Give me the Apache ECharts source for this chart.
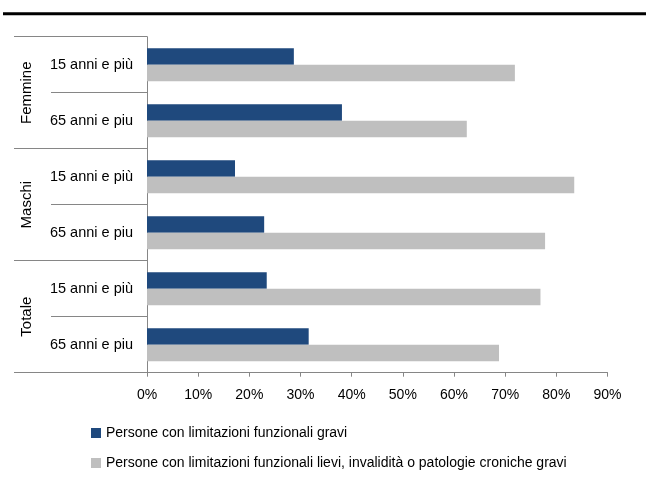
<!DOCTYPE html>
<html>
<head>
<meta charset="utf-8">
<script src="https://cdn.jsdelivr.net/npm/echarts@6/dist/echarts.min.js"></script>
<style>
	html, body { margin: 0; padding: 0; background: #fff; }
	#chart { width: 646px; height: 480px; }
</style>
</head>
<body>
<div id="chart"></div>
<script>
	'use strict'
	/*----data----*/
	var groups = ['Femmine', 'Maschi', 'Totale'];
	var ages = ['15 anni e più', '65 anni e piu'];
	var gravi = [28.7, 38.1, 17.2, 22.9, 23.4, 31.6];
	var lievi = [71.9, 62.5, 83.5, 77.8, 76.9, 68.8];
	var xTicks = [0, 10, 20, 30, 40, 50, 60, 70, 80, 90];
	var seriesNames = [
		'Persone con limitazioni funzionali gravi',
		'Persone con limitazioni funzionali lievi, invalidità o patologie croniche gravi'
	];

	var font = "'Liberation Sans Narrow', 'Arial Narrow', 'Liberation Sans', Arial, sans-serif";
	var axisGrey = '#868686';

	var categories = [];
	groups.forEach(function(g) {
		ages.forEach(function(a) {
			categories.push(g + '|' + a);
		});
	});

	var chart = echarts.init(document.getElementById('chart'));
	var option = {
		animation: false,
		grid: {
			top: 36.7,
			right: 38.5,
			bottom: 107.3,
			left: 147,
		},
		graphic: [{
			type: 'line',
			shape: { x1: 3, y1: 13.8, x2: 646, y2: 13.8 },
			style: { stroke: '#000', lineWidth: 3 }
		}],
		legend: {
			orient: 'vertical',
			left: 91,
			top: 425,
			padding: 0,
			itemWidth: 10,
			itemHeight: 10,
			itemGap: 14,
			icon: 'rect',
			textStyle: {
				fontFamily: font,
				fontSize: 14,
				lineHeight: 16,
				color: '#000'
			},
			data: seriesNames
		},
		xAxis: {
			type: 'value',
			min: xTicks[0],
			max: xTicks[xTicks.length - 1],
			interval: xTicks[1] - xTicks[0],
			splitLine: { show: false },
			axisLine: {
				show: true,
				lineStyle: { color: axisGrey }
			},
			axisTick: {
				show: true,
				length: 4,
				lineStyle: { color: axisGrey }
			},
			axisLabel: {
				margin: 15,
				fontFamily: font,
				fontSize: 14,
				color: '#000',
				formatter: '{value}%'
			}
		},
		yAxis: [{
			type: 'category',
			inverse: true,
			data: categories,
			axisLine: {
				show: true,
				lineStyle: { color: axisGrey }
			},
			axisTick: {
				show: true,
				length: 96,
				lineStyle: { color: axisGrey }
			},
			axisLabel: {
				margin: 14,
				fontFamily: font,
				fontSize: 14.5,
				color: '#000',
				formatter: function(v) { return v.split('|')[1]; }
			}
		}, {
			type: 'category',
			position: 'left',
			offset: 0,
			inverse: true,
			data: groups,
			axisLine: { show: false },
			axisTick: {
				show: true,
				length: 133,
				lineStyle: { color: axisGrey }
			},
			axisLabel: {
				rotate: 90,
				margin: 113,
				fontFamily: font,
				fontSize: 15,
				color: '#000'
			}
		}],
		series: [{
			name: seriesNames[0],
			type: 'bar',
			yAxisIndex: 0,
			barWidth: 16.5,
			barGap: '0%',
			data: gravi
		}, {
			name: seriesNames[1],
			type: 'bar',
			yAxisIndex: 0,
			barWidth: 16.5,
			barGap: '0%',
			data: lievi
		}],
		color: ['#1F497D', '#BFBFBF']
	};
	chart.setOption(option);
</script>
</body>
</html>
